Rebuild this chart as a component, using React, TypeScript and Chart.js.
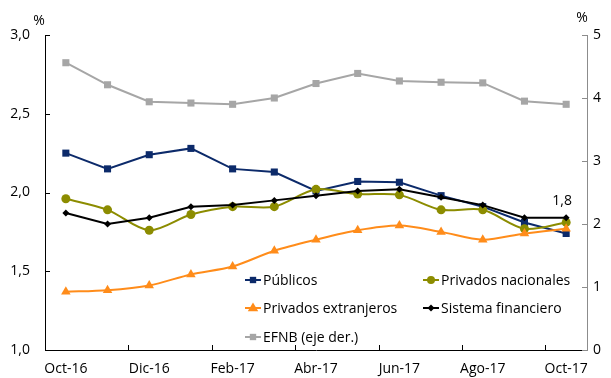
import React, { useEffect, useRef } from 'react';
import { Chart, registerables } from 'chart.js';

Chart.register(...registerables);

const categories = ['Oct-16', 'Nov-16', 'Dic-16', 'Ene-17', 'Feb-17', 'Mar-17', 'Abr-17', 'May-17', 'Jun-17', 'Jul-17', 'Ago-17', 'Sep-17', 'Oct-17'];
const publicos = [2.25, 2.15, 2.24, 2.28, 2.15, 2.13, 2.01, 2.07, 2.065, 1.98, 1.91, 1.81, 1.74];
const privadosNacionales = [1.96, 1.89, 1.76, 1.86, 1.91, 1.91, 2.02, 1.99, 1.985, 1.89, 1.89, 1.77, 1.81];
const privadosExtranjeros = [1.37, 1.38, 1.41, 1.48, 1.53, 1.63, 1.7, 1.76, 1.79, 1.75, 1.7, 1.74, 1.77];
const sistemaFinanciero = [1.87, 1.8, 1.84, 1.91, 1.92, 1.95, 1.98, 2.01, 2.02, 1.97, 1.92, 1.84, 1.84];
const efnb = [4.56, 4.21, 3.94, 3.92, 3.9, 4.0, 4.23, 4.39, 4.27, 4.25, 4.24, 3.95, 3.9];
const leftTicks = [1.0, 1.5, 2.0, 2.5, 3.0];
const rightTicks = [0, 1, 2, 3, 4, 5];
const seriesNames = ['Públicos', 'Privados nacionales', 'Privados extranjeros', 'Sistema financiero', 'EFNB (eje der.)'];

const FONT = '"Open Sans", sans-serif';
const FONT_SIZE = 14;
const TEXT = '#000000';

const C_NAVY = '#0C2A6A';
const C_OLIVE = '#8C8C00';
const C_ORANGE = '#FF8C1A';
const C_BLACK = '#000000';
const C_GRAY = '#A6A6A6';

function drawMarker(ctx: CanvasRenderingContext2D, style: string, x: number, y: number, r: number, color: string) {
  ctx.save();
  ctx.fillStyle = color;
  ctx.beginPath();
  if (style === 'rect') {
    const s = Math.SQRT1_2 * r;
    ctx.rect(x - s, y - s, 2 * s, 2 * s);
  } else if (style === 'circle') {
    ctx.arc(x, y, r, 0, Math.PI * 2);
  } else if (style === 'triangle') {
    ctx.moveTo(x, y - r);
    ctx.lineTo(x + r * 0.95, y + r * 0.6);
    ctx.lineTo(x - r * 0.95, y + r * 0.6);
    ctx.closePath();
  } else if (style === 'rectRot') {
    ctx.moveTo(x, y - r);
    ctx.lineTo(x + r, y);
    ctx.lineTo(x, y + r);
    ctx.lineTo(x - r, y);
    ctx.closePath();
  }
  ctx.fill();
  ctx.restore();
}

const decorPlugin = {
  id: 'decor',
  afterDatasetsDraw(chart: any) {
    const ctx: CanvasRenderingContext2D = chart.ctx;
    const area = chart.chartArea;
    const xs = chart.scales.x;
    const yl = chart.scales.y;
    const yr = chart.scales.y1;
    ctx.save();
    // inward tick marks
    ctx.lineWidth = 1;
    ctx.strokeStyle = '#000000';
    for (let k = 2; k < categories.length; k += 2) {
      const px = Math.round((xs.getPixelForValue(k - 1) + xs.getPixelForValue(k)) / 2) + 0.5;
      ctx.beginPath();
      ctx.moveTo(px, area.bottom);
      ctx.lineTo(px, area.bottom - 5);
      ctx.stroke();
    }
    leftTicks.forEach((v) => {
      const py = Math.round(yl.getPixelForValue(v)) + 0.5;
      ctx.beginPath();
      ctx.moveTo(area.left, py);
      ctx.lineTo(area.left + 5, py);
      ctx.stroke();
    });
    ctx.strokeStyle = '#8C8C8C';
    rightTicks.forEach((v) => {
      const py = Math.round(yr.getPixelForValue(v)) + 0.5;
      ctx.beginPath();
      ctx.moveTo(area.right, py);
      ctx.lineTo(area.right - 5, py);
      ctx.stroke();
    });

    // % titles
    ctx.fillStyle = TEXT;
    ctx.font = `${FONT_SIZE}px ${FONT}`;
    ctx.textAlign = 'center';
    ctx.textBaseline = 'middle';
    ctx.fillText('%', area.left - 6, area.top - 14);
    ctx.fillText('%', area.right - 5, area.top - 17);

    // data label on last point of Sistema financiero
    const meta = chart.getDatasetMeta(3);
    const last = meta.data[meta.data.length - 1];
    const val = sistemaFinanciero[sistemaFinanciero.length - 1];
    ctx.fillText(val.toFixed(1).replace('.', ','), last.x - 4, last.y - 17);

    // legend
    const items = [
      { name: seriesNames[0], color: C_NAVY, style: 'rect', r: 4.5, x: area.left + 200, y: area.bottom - 70 },
      { name: seriesNames[1], color: C_OLIVE, style: 'circle', r: 4, x: area.left + 378, y: area.bottom - 70 },
      { name: seriesNames[2], color: C_ORANGE, style: 'triangle', r: 5.5, x: area.left + 200, y: area.bottom - 42 },
      { name: seriesNames[3], color: C_BLACK, style: 'rectRot', r: 3.5, x: area.left + 378, y: area.bottom - 42 },
      { name: seriesNames[4], color: C_GRAY, style: 'rect', r: 4.5, x: area.left + 200, y: area.bottom - 13 },
    ];
    ctx.textAlign = 'left';
    items.forEach((it) => {
      ctx.strokeStyle = it.color;
      ctx.lineWidth = 2;
      ctx.beginPath();
      ctx.moveTo(it.x, it.y);
      ctx.lineTo(it.x + 16, it.y);
      ctx.stroke();
      drawMarker(ctx, it.style, it.x + 8, it.y, it.r, it.color);
      ctx.fillStyle = TEXT;
      ctx.fillText(it.name, it.x + 18, it.y + 1);
    });
    ctx.restore();
  },
};

export default function App() {
  const canvasRef = useRef<HTMLCanvasElement | null>(null);

  useEffect(() => {
    document.body.style.margin = '0';
    const canvas = canvasRef.current;
    if (!canvas) return;
    const common = { borderWidth: 2, pointBorderWidth: 0, fill: false };
    const chart = new Chart(canvas, {
      type: 'line',
      data: {
        labels: categories,
        datasets: [
          { ...common, label: seriesNames[0], data: publicos, borderColor: C_NAVY, backgroundColor: C_NAVY, pointStyle: 'rect', pointRadius: 5, tension: 0, yAxisID: 'y', order: 5 },
          { ...common, label: seriesNames[1], data: privadosNacionales, borderColor: C_OLIVE, backgroundColor: C_OLIVE, pointStyle: 'circle', pointRadius: 4.5, tension: 0.3, yAxisID: 'y', order: 4 },
          { ...common, label: seriesNames[2], data: privadosExtranjeros, borderColor: C_ORANGE, backgroundColor: C_ORANGE, pointStyle: 'triangle', pointRadius: 5.5, tension: 0.3, yAxisID: 'y', order: 3 },
          { ...common, label: seriesNames[3], data: sistemaFinanciero, borderColor: C_BLACK, backgroundColor: C_BLACK, pointStyle: 'rectRot', pointRadius: 3.5, tension: 0, yAxisID: 'y', order: 2 },
          { ...common, label: seriesNames[4], data: efnb, borderColor: C_GRAY, backgroundColor: C_GRAY, pointStyle: 'rect', pointRadius: 5, tension: 0, yAxisID: 'y1', order: 1 },
        ] as any,
      },
      options: {
        responsive: false,
        animation: false,
        devicePixelRatio: 1,
        layout: { padding: { top: 35, left: 0, right: 0, bottom: 0 } },
        plugins: { legend: { display: false }, tooltip: { enabled: false } },
        font: { family: FONT, size: FONT_SIZE } as any,
        scales: {
          x: {
            type: 'category',
            offset: true,
            grid: { drawOnChartArea: false, drawTicks: false },
            border: { display: true, color: '#000000', width: 1 },
            ticks: {
              autoSkip: false,
              maxRotation: 0,
              padding: 11,
              color: TEXT,
              font: { family: FONT, size: FONT_SIZE },
              callback: (_v: any, i: number) => (i % 2 === 0 ? categories[i] : ''),
            },
            afterFit: (s: any) => { s.height = 28; },
          },
          y: {
            type: 'linear',
            position: 'left',
            min: 1,
            max: 3,
            grid: { drawOnChartArea: false, drawTicks: false },
            border: { display: true, color: '#000000', width: 1 },
            afterBuildTicks: (s: any) => { s.ticks = leftTicks.map((v) => ({ value: v })); },
            ticks: {
              padding: 15,
              color: TEXT,
              font: { family: FONT, size: FONT_SIZE },
              callback: (v: any) => Number(v).toFixed(1).replace('.', ','),
            },
            afterFit: (s: any) => { s.width = 45; },
          },
          y1: {
            type: 'linear',
            position: 'right',
            min: 0,
            max: 5,
            grid: { drawOnChartArea: false, drawTicks: false },
            border: { display: true, color: '#8C8C8C', width: 1 },
            afterBuildTicks: (s: any) => { s.ticks = rightTicks.map((v) => ({ value: v })); },
            ticks: {
              padding: 6,
              color: TEXT,
              font: { family: FONT, size: FONT_SIZE },
              callback: (v: any) => String(v),
            },
            afterFit: (s: any) => { s.width = 24; },
          },
        },
      } as any,
      plugins: [decorPlugin],
    });
    return () => chart.destroy();
  }, []);

  return (
    <div style={{ width: 611, height: 378 }}>
      <canvas ref={canvasRef} width={611} height={378} style={{ display: 'block' }} />
    </div>
  );
}
